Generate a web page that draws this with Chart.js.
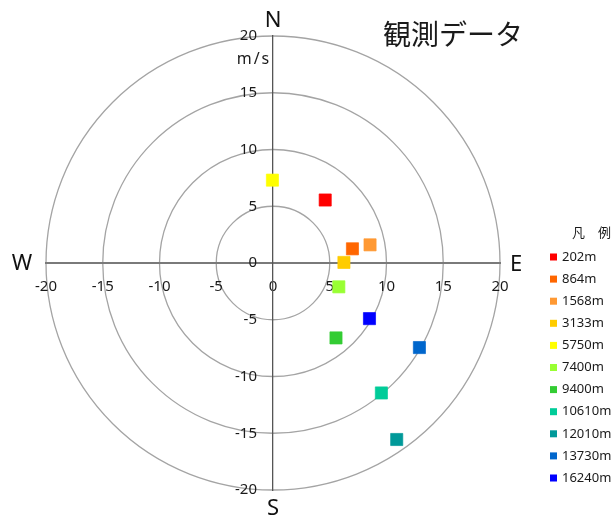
<!DOCTYPE html>
<html>
<head>
<meta charset="utf-8">
<script src="https://cdn.jsdelivr.net/npm/chart.js@4.4.1/dist/chart.umd.min.js"></script>
<style>
  html, body { margin: 0; padding: 0; background: #fff; }
</style>
</head>
<body>
<canvas id="windChart" width="611" height="518"></canvas>
<script>
// observed wind per altitude (east / north components, m/s)
const altitudes = ['202m', '864m', '1568m', '3133m', '5750m', '7400m', '9400m', '10610m', '12010m', '13730m', '16240m'];
const eastWind = [4.6, 7.0, 8.55, 6.25, -0.05, 5.8, 5.55, 9.55, 10.9, 12.9, 8.5];
const northWind = [5.55, 1.25, 1.6, 0.05, 7.3, -2.1, -6.6, -11.45, -15.55, -7.45, -4.9];
const pointColors = ['#ff0000', '#ff6600', '#ff9933', '#ffcc00', '#ffff00', '#99ff33', '#33cc33', '#00cc99', '#009999', '#0066cc', '#0000ff'];
const ringSpeeds = [5, 10, 15, 20];
const axisMin = -20, axisMax = 20, axisStep = 5;

const tickFont = { family: '"Noto Sans", sans-serif', size: 15 };
const textColor = '#1a1a1a';

// speed circles, drawn under the axes
const ringsPlugin = {
    id: 'rings',
    beforeDraw(chart) {
        const { ctx, scales: { x, y } } = chart;
        const cx = x.getPixelForValue(0), cy = y.getPixelForValue(0);
        ctx.save();
        ctx.strokeStyle = '#a4a4a4';
        ctx.lineWidth = 1.3;
        ringSpeeds.forEach(r => {
            const rad = x.getPixelForValue(r) - cx;
            ctx.beginPath();
            ctx.arc(cx, cy, rad, 0, Math.PI * 2);
            ctx.stroke();
        });
        ctx.restore();
    }
};

// y tick labels (offset from the centre axis), compass letters, unit, title and legend
const labelsPlugin = {
    id: 'labels',
    afterDraw(chart) {
        const { ctx, chartArea: area, scales: { x, y } } = chart;
        const cx = x.getPixelForValue(0), cy = y.getPixelForValue(0);
        ctx.save();
        ctx.fillStyle = textColor;
        ctx.textBaseline = 'middle';

        ctx.font = '15px "Noto Sans", sans-serif';
        ctx.textAlign = 'right';
        y.ticks.forEach(t => {
            ctx.fillText(String(t.value), cx - 16, y.getPixelForValue(t.value));
        });

        ctx.textAlign = 'center';
        ctx.fillStyle = '#111';
        ctx.font = '22px "Noto Sans", sans-serif';
        ctx.fillText('N', cx, area.top - 15);
        ctx.fillText('S', cx, area.bottom + 19);
        ctx.fillText('W', area.left - 24, cy + 1);
        ctx.fillText('E', area.right + 16, cy + 2);

        ctx.fillStyle = textColor;
        ctx.font = '16px "Noto Sans", sans-serif';
        ctx.letterSpacing = '2px';
        ctx.fillText('m/s', cx - 19, y.getPixelForValue(18) + 1);
        ctx.letterSpacing = '0px';

        ctx.font = '28px "Noto Sans CJK JP", sans-serif';
        ctx.fillText('観測データ', 453, 34);

        // legend
        ctx.font = '13px "Noto Sans CJK JP", sans-serif';
        ctx.textAlign = 'right';
        ctx.fillText('凡　例', 611, 232);
        ctx.font = '13px "Noto Sans", sans-serif';
        ctx.textAlign = 'left';
        chart.data.datasets.forEach((ds, i) => {
            const ly = 257 + i * 22.1;
            ctx.fillStyle = ds.backgroundColor;
            ctx.fillRect(550, ly - 3.5, 7, 7);
            ctx.fillStyle = textColor;
            ctx.fillText(ds.label, 562, ly);
        });
        ctx.restore();
    }
};

const datasets = altitudes.map((alt, i) => ({
    label: alt,
    data: [{ x: eastWind[i], y: northWind[i] }],
    backgroundColor: pointColors[i],
    borderColor: pointColors[i] + 'aa',
    borderWidth: 1,
    pointStyle: 'rect',
    pointRadius: 8.6,
    pointHoverRadius: 8.6
}));

const ctx = document.getElementById('windChart').getContext('2d');
const windChart = new Chart(ctx, {
    type: 'scatter',
    data: { datasets: datasets },
    options: {
        responsive: false,
        animation: false,
        layout: { padding: { left: 46, right: 111, top: 36, bottom: 28 } },
        scales: {
            x: {
                type: 'linear',
                position: { y: 0 },
                min: axisMin, max: axisMax,
                ticks: { stepSize: axisStep, font: tickFont, color: textColor, padding: 15, maxRotation: 0 },
                grid: { display: false, drawTicks: false },
                border: { display: true, color: '#7a7a7a', width: 2 }
            },
            y: {
                type: 'linear',
                position: { x: 0 },
                min: axisMin, max: axisMax,
                ticks: { stepSize: axisStep, display: false },
                grid: { display: false, drawTicks: false },
                border: { display: true, color: '#555', width: 1.3 }
            }
        },
        plugins: {
            legend: { display: false },
            tooltip: { enabled: false }
        }
    },
    plugins: [ringsPlugin, labelsPlugin]
});
</script>
</body>
</html>
